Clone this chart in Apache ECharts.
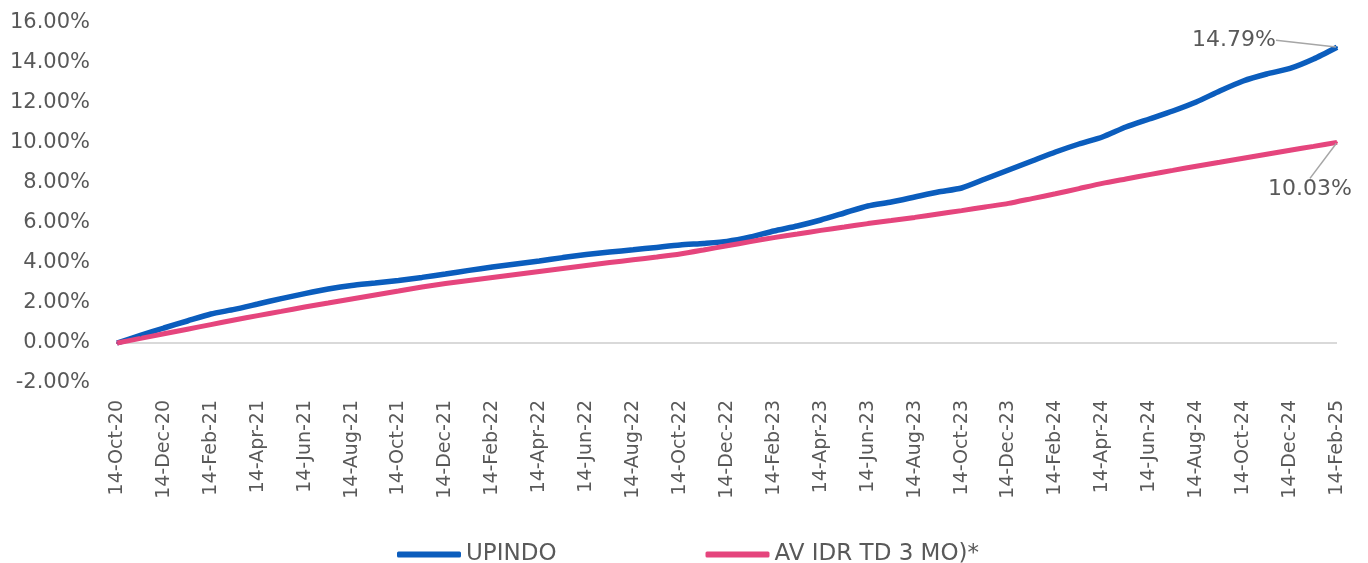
<!DOCTYPE html>
<html>
<head>
<meta charset="utf-8">
<script src="https://cdn.jsdelivr.net/npm/echarts@6/dist/echarts.min.js"></script>
<style>
html,body{margin:0;padding:0;background:#fff;}
#chart{width:1368px;height:563px;}
</style>
</head>
<body>
<div id="chart"></div>
<script>
const categories = [
"14-Oct-20","14-Nov-20","14-Dec-20","14-Jan-21","14-Feb-21","14-Mar-21","14-Apr-21","14-May-21","14-Jun-21","14-Jul-21","14-Aug-21","14-Sep-21",
"14-Oct-21","14-Nov-21","14-Dec-21","14-Jan-22","14-Feb-22","14-Mar-22","14-Apr-22","14-May-22","14-Jun-22","14-Jul-22","14-Aug-22","14-Sep-22",
"14-Oct-22","14-Nov-22","14-Dec-22","14-Jan-23","14-Feb-23","14-Mar-23","14-Apr-23","14-May-23","14-Jun-23","14-Jul-23","14-Aug-23","14-Sep-23",
"14-Oct-23","14-Nov-23","14-Dec-23","14-Jan-24","14-Feb-24","14-Mar-24","14-Apr-24","14-May-24","14-Jun-24","14-Jul-24","14-Aug-24","14-Sep-24",
"14-Oct-24","14-Nov-24","14-Dec-24","14-Jan-25","14-Feb-25"
];
const upindo = [
0,0.38,0.75,1.10,1.45,1.68,1.95,2.22,2.47,2.70,2.88,3.00,
3.13,3.28,3.45,3.63,3.80,3.95,4.10,4.27,4.42,4.55,4.66,4.78,
4.90,4.98,5.08,5.30,5.60,5.85,6.15,6.50,6.85,7.05,7.30,7.55,
7.75,8.20,8.65,9.10,9.55,9.95,10.30,10.80,11.20,11.60,12.05,12.60,
13.10,13.45,13.73,14.20,14.79
];
const avIdr = [
0,0.23,0.46,0.69,0.92,1.15,1.37,1.58,1.80,2.00,2.20,2.40,
2.60,2.80,2.97,3.12,3.27,3.42,3.57,3.72,3.87,4.02,4.16,4.30,
4.45,4.65,4.86,5.07,5.27,5.45,5.63,5.80,5.97,6.12,6.28,6.45,
6.62,6.80,6.98,7.22,7.46,7.72,7.98,8.20,8.42,8.63,8.84,9.04,
9.24,9.44,9.64,9.83,10.03
];
const yTicks = [-2,0,2,4,6,8,10,12,14,16];
const seriesNames = ["UPINDO","AV IDR TD 3 MO)*"];

const BLUE = "#0B5DBD", PINK = "#E5457D", TXT = "#595959", FONT = "DejaVu Sans";

function withEndLabel(arr){
  return arr.map((v,i)=> i===arr.length-1 ? {value:v, label:{show:true}} : v);
}

const chart = echarts.init(document.getElementById('chart'), null, {renderer:'canvas'});
chart.setOption({
  animation:false,
  backgroundColor:'#fff',
  grid:{left:117,right:31,top:23,bottom:180,containLabel:false},
  legend:{
    data:seriesNames,
    left:392, top:538,
    itemWidth:64, itemHeight:6, itemGap:149,
    icon:'roundRect',
    textStyle:{color:TXT,fontFamily:FONT,fontSize:23}
  },
  xAxis:{
    type:'category',
    data:categories,
    boundaryGap:false,
    axisLine:{show:false},
    axisTick:{show:false},
    splitLine:{show:false},
    axisLabel:{rotate:90,interval:1,margin:17,color:TXT,fontFamily:FONT,fontSize:19}
  },
  yAxis:{
    type:'value',
    min:yTicks[0], max:yTicks[yTicks.length-1], interval:2,
    axisLine:{show:false},
    axisTick:{show:false},
    splitLine:{show:true,lineStyle:{width:2,color:yTicks.map(t=>t===0?'#d9d9d9':'rgba(0,0,0,0)')}},
    axisLabel:{margin:27,color:TXT,fontFamily:FONT,fontSize:21,formatter:v=>v.toFixed(2)+'%'}
  },
  series:[
    {
      name:seriesNames[0], type:'line', data:withEndLabel(upindo),
      smooth:0.2,
      symbol:'circle', symbolSize:2, showSymbol:true, showAllSymbol:true,
      itemStyle:{color:BLUE},
      lineStyle:{color:BLUE,width:5.5},
      label:{show:false,position:'left',distance:0,color:TXT,fontFamily:FONT,fontSize:22,
        formatter:p=>p.value.toFixed(2)+'%'},
      labelLine:{show:true,lineStyle:{color:'#a6a6a6',width:1.5}},
      labelLayout:{dx:-60,dy:-7},
      emphasis:{disabled:true}
    },
    {
      name:seriesNames[1], type:'line', data:withEndLabel(avIdr),
      smooth:0.2,
      symbol:'circle', symbolSize:2, showSymbol:true, showAllSymbol:true,
      itemStyle:{color:PINK},
      lineStyle:{color:PINK,width:5},
      label:{show:false,position:'bottom',distance:0,color:TXT,fontFamily:FONT,fontSize:22,
        formatter:p=>p.value.toFixed(2)+'%'},
      labelLine:{show:true,lineStyle:{color:'#a6a6a6',width:1.5}},
      labelLayout:{dx:-27,dy:35},
      emphasis:{disabled:true}
    }
  ]
});
</script>
</body>
</html>
